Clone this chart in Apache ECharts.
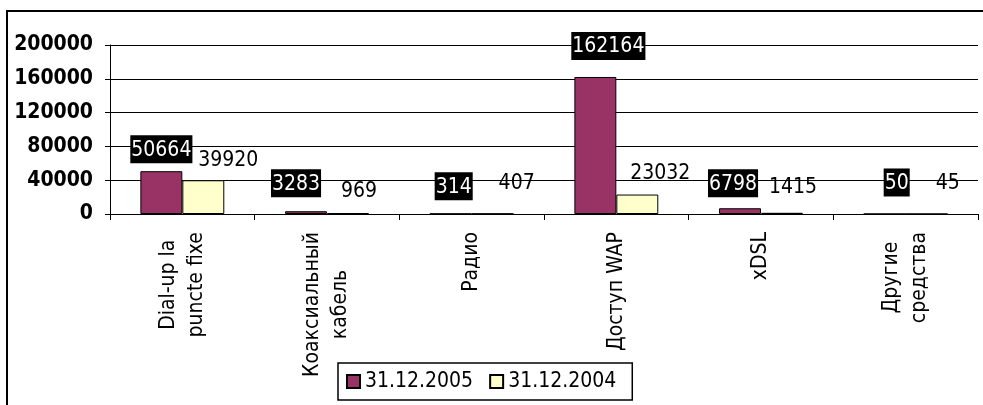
<!DOCTYPE html>
<html>
<head>
<meta charset="utf-8">
<script src="https://cdn.jsdelivr.net/npm/echarts@6/dist/echarts.min.js"></script>
<style>
html,body{margin:0;padding:0;background:#fff;}
#chart{width:983px;height:405px;}
</style>
</head>
<body>
<div id="chart"></div>
<script>
var categories = ['Dial-up la\npuncte fixe', 'Коаксиальный\nкабель', 'Радио', 'Доступ WAP', 'xDSL', 'Другие\nсредства'];
var seriesNames = ['31.12.2005', '31.12.2004'];
var values2005 = [50664, 3283, 314, 162164, 6798, 50];
var values2004 = [39920, 969, 407, 23032, 1415, 45];
var yTicks = [0, 40000, 80000, 120000, 160000, 200000];

// label nudges (horizontal shift, height of label centre above bar top)
var nudgeX2005 = [0, -10, 3, 13, -7, 12];
var nudgeH2005 = [22, 28, 27, 31, 25, 31];
var nudgeX2004 = [25, 11, 24, 23, 11, 21];
var nudgeH2004 = [21, 23, 31, 22, 26, 31];

var FONT = '"DejaVu Sans Condensed", "DejaVu Sans", sans-serif';

function buildData(vals, nx, nh) {
  return vals.map(function (v, i) {
    return {
      value: v,
      label: { offset: [nx[i], -(nh[i] - 14)] }
    };
  });
}

var chart = echarts.init(document.getElementById('chart'), null, {renderer: 'canvas'});
chart.setOption({
  backgroundColor: '#fff',
  animation: false,
  graphic: [{
    type: 'rect',
    shape: {x: 7, y: 11, width: 1000, height: 500},
    style: {fill: 'none', stroke: '#000', lineWidth: 2},
    z: 100
  }],
  grid: {left: 110, right: 5, top: 45, bottom: 191, containLabel: false},
  legend: {
    left: 338, top: 363,
    data: seriesNames,
    icon: 'rect',
    itemWidth: 13, itemHeight: 13, itemGap: 16,
    padding: [8, 16, 8, 8],
    borderColor: '#000', borderWidth: 1.5,
    textStyle: {fontFamily: FONT, fontSize: 21, color: '#000'}
  },
  xAxis: {
    type: 'category',
    data: categories,
    boundaryGap: true,
    axisLine: {show: true, lineStyle: {color: '#000', width: 1}},
    axisTick: {show: true, length: 6, lineStyle: {color: '#000'}},
    axisLabel: {
      interval: 0,
      rotate: 90,
      margin: 18,
      formatter: function (v) {
        return v.split('\n').map(function (s) { return '{c|' + s + '}'; }).join('\n');
      },
      rich: {c: {align: 'center', fontFamily: FONT, fontSize: 21, lineHeight: 28, color: '#000'}}
    }
  },
  yAxis: {
    type: 'value',
    min: yTicks[0], max: yTicks[yTicks.length - 1], interval: yTicks[1] - yTicks[0],
    axisLine: {show: true, lineStyle: {color: '#000', width: 1}},
    axisTick: {show: true, length: 5, lineStyle: {color: '#000'}},
    axisLabel: {
      margin: 17, fontFamily: FONT, fontSize: 21, fontWeight: 'bold', color: '#000',
      formatter: function (v) { return String(v); }
    },
    splitLine: {show: true, lineStyle: {color: '#000', width: 1}}
  },
  series: [{
    name: seriesNames[0],
    type: 'bar',
    data: buildData(values2005, nudgeX2005, nudgeH2005),
    barGap: '0%',
    barCategoryGap: '42%',
    itemStyle: {color: '#993366', borderColor: '#000', borderWidth: 1},
    label: {
      show: true, position: 'top', distance: 0,
      fontFamily: FONT, fontSize: 21, color: '#fff',
      backgroundColor: '#000', padding: [3, 1, 1, 1], lineHeight: 24
    }
  }, {
    name: seriesNames[1],
    type: 'bar',
    data: buildData(values2004, nudgeX2004, nudgeH2004),
    itemStyle: {color: '#FFFFCC', borderColor: '#000', borderWidth: 1},
    label: {
      show: true, position: 'top', distance: 0,
      fontFamily: FONT, fontSize: 21, color: '#000',
      padding: [3, 1, 1, 1], lineHeight: 24
    }
  }]
});
</script>
</body>
</html>
